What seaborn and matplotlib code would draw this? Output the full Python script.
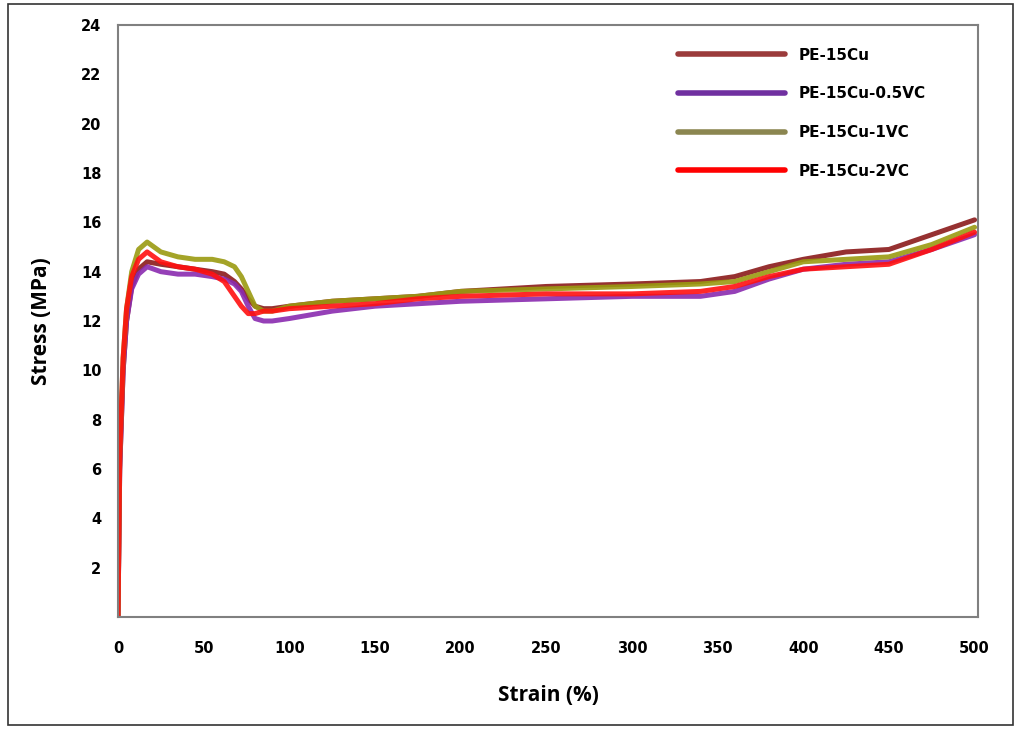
import matplotlib
matplotlib.use("Agg")
import matplotlib.pyplot as plt
import seaborn as sns
import pandas as pd
from matplotlib.patches import Rectangle
from matplotlib.lines import Line2D

# ---- data ----
strain = [0, 1, 3, 5, 8, 12, 17, 25, 35, 45, 55, 62, 68, 72, 76, 80, 85, 90, 100,
          125, 150, 175, 200, 250, 300, 340, 360, 380, 400, 425, 450, 475, 500]

pe15cu = [0, 6, 10, 12, 13.4, 14.1, 14.4, 14.3, 14.2, 14.1, 14.0, 13.9, 13.6, 13.3, 12.9, 12.6, 12.5, 12.5, 12.6,
          12.8, 12.9, 13.0, 13.2, 13.4, 13.5, 13.6, 13.8, 14.2, 14.5, 14.8, 14.9, 15.5, 16.1]
pe15cu_05vc = [0, 6, 10, 12, 13.3, 13.9, 14.2, 14.0, 13.9, 13.9, 13.8, 13.7, 13.5, 13.2, 12.6, 12.1, 12.0, 12.0, 12.1,
               12.4, 12.6, 12.7, 12.8, 12.9, 13.0, 13.0, 13.2, 13.7, 14.1, 14.3, 14.4, 14.9, 15.5]
pe15cu_1vc = [0, 6.5, 10.5, 12.5, 14.0, 14.9, 15.2, 14.8, 14.6, 14.5, 14.5, 14.4, 14.2, 13.8, 13.2, 12.6, 12.4, 12.4, 12.6,
              12.8, 12.9, 13.0, 13.2, 13.3, 13.4, 13.5, 13.6, 14.0, 14.4, 14.5, 14.6, 15.1, 15.8]
pe15cu_2vc = [0, 6.5, 10.5, 12.5, 13.8, 14.5, 14.8, 14.4, 14.2, 14.1, 13.9, 13.6, 13.0, 12.6, 12.3, 12.3, 12.4, 12.4, 12.5,
              12.6, 12.7, 12.9, 13.0, 13.1, 13.1, 13.2, 13.4, 13.8, 14.1, 14.2, 14.3, 14.9, 15.6]

series_names = ["PE-15Cu", "PE-15Cu-0.5VC", "PE-15Cu-1VC", "PE-15Cu-2VC"]
series_values = [pe15cu, pe15cu_05vc, pe15cu_1vc, pe15cu_2vc]
line_colors = ["#8B1A1A", "#8A2BB0", "#9A9A10", "#FF1010"]
legend_colors = ["#9B3B3B", "#7030A0", "#8B8650", "#FF0000"]

y_ticks = [2, 4, 6, 8, 10, 12, 14, 16, 18, 20, 22, 24]
x_ticks = [0, 50, 100, 150, 200, 250, 300, 350, 400, 450, 500]

frames = []
for name, vals in zip(series_names, series_values):
    frames.append(pd.DataFrame({"Strain": strain, "Stress": vals, "Sample": name}))
df = pd.concat(frames, ignore_index=True)

sns.set_style("white")
plt.rcParams["font.family"] = ["DejaVu Sans"]
plt.rcParams["text.color"] = "black"
plt.rcParams["axes.labelcolor"] = "black"
plt.rcParams["xtick.color"] = "black"
plt.rcParams["ytick.color"] = "black"

fig = plt.figure(figsize=(10.19, 7.31), dpi=100)
ax = fig.add_axes([118 / 1019, (731 - 617) / 731, (978 - 118) / 1019, (617 - 25) / 731])

sns.lineplot(data=df, x="Strain", y="Stress", hue="Sample", hue_order=series_names,
             palette=dict(zip(series_names, line_colors)), linewidth=3.6, alpha=0.9,
             ax=ax, legend=False, sort=False)

ax.set_xlim(0, 502)
ax.set_ylim(0, 24)
ax.set_xticks(x_ticks)
ax.set_yticks(y_ticks)
ax.set_xticklabels([str(v) for v in x_ticks], fontsize=10.5, fontweight="bold", color="black")
ax.set_yticklabels([str(v) for v in y_ticks], fontsize=10.5, fontweight="bold", color="black")
ax.tick_params(axis="both", direction="in", length=7, width=1.2, color="#808080")
ax.tick_params(axis="x", pad=17)
ax.tick_params(axis="y", pad=12)
for sp in ax.spines.values():
    sp.set_color("#808080")
    sp.set_linewidth(1.5)
    sp.set_visible(True)

ax.set_xlabel("Strain (%)", fontsize=15, fontweight="bold", family=["Open Sans", "DejaVu Sans"],
              labelpad=21, color="black")
ax.set_ylabel("Stress (MPa)", fontsize=15, fontweight="bold", family=["Open Sans", "DejaVu Sans"],
              labelpad=21, color="black")

handles = [Line2D([0], [0], color=c, lw=4) for c in legend_colors]
leg = ax.legend(handles, series_names, loc="upper left", bbox_to_anchor=(0.635, 0.985),
                frameon=False, handlelength=7.0, handletextpad=0.9, labelspacing=1.55,
                prop={"weight": "bold", "size": 11})
for t in leg.get_texts():
    t.set_color("black")

# outer frame of the figure
fig.patches.append(Rectangle((8 / 1019, 6 / 731), (1013 - 8) / 1019, (727 - 6) / 731,
                             transform=fig.transFigure, fill=False, edgecolor="#333333", linewidth=1.2))

fig.savefig("out.png", dpi=100)
